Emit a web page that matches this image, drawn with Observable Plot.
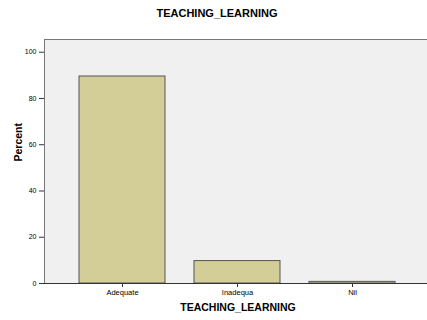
<!DOCTYPE html>
<html>
<head>
<meta charset="utf-8">
<script src="https://cdn.jsdelivr.net/npm/d3@7"></script>
<script src="https://cdn.jsdelivr.net/npm/@observablehq/plot@0.6"></script>
<style>
  html, body { margin: 0; padding: 0; background: #fff; overflow: hidden; }
  #title { width: 434px; height: 30px; text-align: center;
           font: bold 11px "Liberation Sans", Arial, sans-serif; line-height: 26px; color: #000; }
  #chart svg { max-width: none !important; display: block; overflow: hidden; }
</style>
</head>
<body>
<div id="title">TEACHING_LEARNING</div>
<div id="chart"></div>
<script>
const categories = ["Adequate", "Inadequa", "Nil"];
const percents = [89.5, 9.7, 0.7];
const yTicks = [0, 20, 40, 60, 80, 100];
const yMax = 105.5;
const xTitle = "TEACHING_LEARNING";
const yTitle = "Percent";

const data = categories.map((c, i) => ({category: c, percent: percents[i]}));

const chart = Plot.plot({
  width: 427,
  height: 290,
  marginLeft: 44,
  marginRight: -4,
  marginTop: 9,
  marginBottom: 37,
  style: {fontFamily: "'Liberation Sans', Arial, sans-serif", fontSize: "7px", background: "transparent", color: "#000", maxWidth: "none"},
  x: {domain: categories, paddingInner: 0.25, paddingOuter: 0.3, label: null},
  y: {domain: [0, yMax], label: null},
  marks: [
    Plot.frame({fill: "#f0f0f0", stroke: null}),
    Plot.ruleY([yMax], {stroke: "#777"}),
    Plot.frame({anchor: "left", stroke: "#777"}),
    Plot.barY(data, {x: "category", y: "percent", fill: "#d3ce97", stroke: "#555", strokeWidth: 1}),
    Plot.ruleY([0], {stroke: "#333"}),
    Plot.axisY({ticks: yTicks, tickSize: 5, tickPadding: 3, label: null, stroke: "#333"}),
    Plot.axisX({tickSize: 4, tickPadding: 2, label: null, fontSize: 7.5, stroke: "#333"}),
    Plot.text([yTitle], {frameAnchor: "left", rotate: -90, dx: -26, fontWeight: "bold", fontSize: 10.5, text: d => d}),
    Plot.text([xTitle], {frameAnchor: "bottom", dy: 27, fontWeight: "bold", fontSize: 10.5, text: d => d})
  ]
});
document.getElementById("chart").appendChild(chart);
</script>
</body>
</html>
